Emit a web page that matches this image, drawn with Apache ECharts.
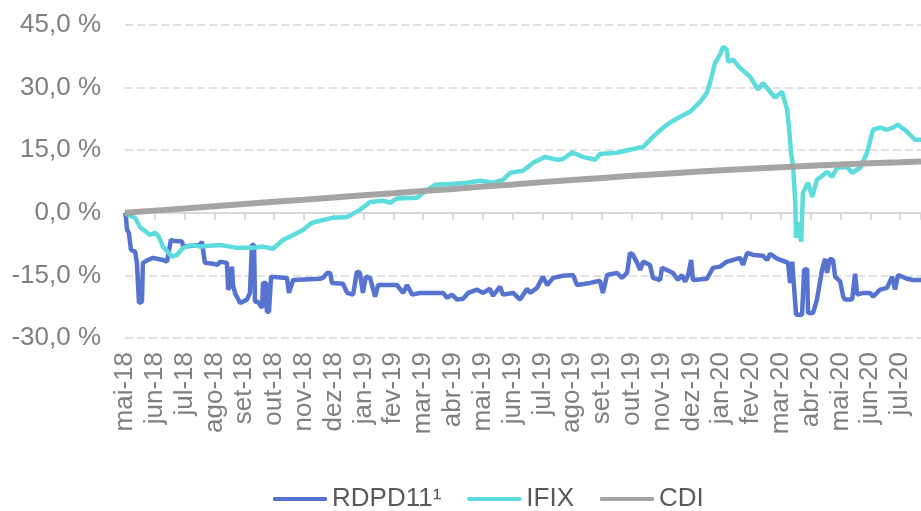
<!DOCTYPE html>
<html>
<head>
<meta charset="utf-8">
<script src="https://cdn.jsdelivr.net/npm/echarts@6/dist/echarts.min.js"></script>
<style>
  html, body { margin: 0; padding: 0; background: #fff; }
  #chart { width: 921px; height: 511px; }
</style>
</head>
<body>
<div id="chart"></div>
<script>
// month labels, one per tick (x unit = months since mai-18)
const months = ["mai-18", "jun-18", "jul-18", "ago-18", "set-18", "out-18", "nov-18", "dez-18",
  "jan-19", "fev-19", "mar-19", "abr-19", "mai-19", "jun-19", "jul-19", "ago-19", "set-19",
  "out-19", "nov-19", "dez-19", "jan-20", "fev-20", "mar-20", "abr-20", "mai-20", "jun-20", "jul-20"];

// RDPD11 (%)
const rdpdX = [0, 0.03, 0.07, 0.13, 0.2, 0.34, 0.4, 0.47, 0.57, 0.6, 0.77, 0.94, 1.27, 1.41, 1.44, 1.54, 1.61, 1.91, 1.95,
  2.52, 2.58, 2.68, 2.95, 3.09, 3.19, 3.42, 3.46, 3.52, 3.59, 3.62, 3.69, 3.86, 4.09, 4.19, 4.26, 4.33, 4.36, 4.46, 4.6,
  4.63, 4.73, 4.76, 4.83, 4.9, 4.96, 5.43, 5.5, 5.64, 6.54, 6.64, 6.78, 6.88, 6.94, 7.31, 7.45, 7.65, 7.78, 7.88, 7.98,
  8.08, 8.22, 8.39, 8.49, 9.12, 9.33, 9.46, 9.63, 9.9, 10.67, 10.8, 10.97, 11.14, 11.34, 11.51, 11.81, 12.01, 12.24,
  12.34, 12.58, 12.68, 13.02, 13.25, 13.49, 13.59, 13.82, 14.02, 14.16, 14.36, 14.69, 15.03, 15.16, 15.6, 15.93, 16.03,
  16.17, 16.5, 16.67, 16.84, 16.94, 17.04, 17.18, 17.28, 17.38, 17.61, 17.71, 17.95, 18.01, 18.18, 18.38, 18.55, 18.68,
  18.79, 18.89, 18.99, 19.05, 19.52, 19.72, 19.96, 20.19, 20.4, 20.63, 20.73, 20.87, 21.07, 21.4, 21.54, 21.64, 21.87,
  22.14, 22.24, 22.31, 22.38, 22.41, 22.51, 22.71, 22.78, 22.88, 22.91, 23.08, 23.21, 23.38, 23.48, 23.55, 23.65, 23.75,
  23.82, 23.99, 24.09, 24.15, 24.39, 24.49, 24.56, 24.76, 24.99, 25.09, 25.33, 25.56, 25.73, 25.83, 25.93, 26.23, 26.43, 26.7];
const rdpdY = [0, -1.0, -4.1, -4.8, -8.9, -9.3, -12.0, -21.6, -21.3, -12.0, -11.3, -10.8, -11.3, -11.7, -10.5, -6.5, -6.7, -6.9, -8.1,
  -7.7, -6.9, -12.0, -12.2, -12.5, -11.7, -12.0, -18.4, -17.7, -12.9, -17.3, -19.2, -21.6, -20.8, -19.2, -7.7, -7.7, -21.3, -21.3, -22.8,
  -16.8, -16.8, -23.7, -23.7, -15.3, -14.9, -15.6, -19.2, -16.1, -15.8, -15.6, -14.4, -14.4, -16.8, -17.0, -19.2, -19.6, -14.1, -14.4, -19.2,
  -15.3, -15.6, -20.1, -17.3, -17.3, -19.2, -17.3, -19.6, -19.2, -19.2, -20.4, -19.6, -20.8, -20.6, -19.2, -18.4, -19.2, -18.2,
  -19.9, -17.7, -19.6, -19.2, -20.8, -18.2, -19.2, -18.0, -15.3, -17.3, -15.6, -15.1, -14.9, -17.3, -16.8, -16.3, -19.2,
  -14.9, -14.4, -15.6, -14.4, -9.6, -10.1, -12.0, -13.7, -11.7, -12.5, -15.6, -16.1, -13.2, -13.7, -14.4, -16.1, -14.9,
  -16.5, -14.9, -11.3, -16.1, -15.8, -13.2, -12.9, -11.7, -11.3, -10.8, -12.5, -9.6, -10.1, -10.3, -11.3, -9.8, -11.0,
  -11.7, -12.0, -16.8, -11.7, -11.3, -24.4, -24.4, -13.7, -13.4, -24.0, -24.0, -20.8, -13.7, -11.0, -14.4, -11.0, -11.3,
  -15.3, -16.5, -20.1, -20.8, -20.8, -14.6, -19.6, -19.2, -19.2, -20.1, -18.4, -18.0, -15.3, -18.4, -14.9, -15.8, -16.1, -16.1];

// IFIX (%)
const ifixX = [0, 0.17, 0.34, 0.5, 0.84, 1.01, 1.14, 1.27, 1.58, 1.74, 1.95, 2.25, 2.52, 2.85, 3.19, 3.52, 3.76, 4.29, 4.63,
  4.96, 5.3, 5.64, 5.97, 6.27, 6.54, 6.98, 7.45, 7.88, 8.22, 8.65, 8.89, 9.12, 9.8, 10.0, 10.4, 10.9, 11.47, 11.91, 12.34,
  12.68, 12.92, 13.35, 13.69, 14.09, 14.49, 14.69, 15.0, 15.36, 15.77, 15.93, 16.5, 17.04, 17.38, 17.71, 18.05, 18.28,
  18.62, 18.95, 19.29, 19.52, 19.62, 19.79, 19.96, 20.06, 20.19, 20.23, 20.4, 20.63, 20.97, 21.23, 21.4, 21.64, 21.8,
  22.04, 22.21, 22.27, 22.34, 22.41, 22.48, 22.51, 22.58, 22.68, 22.74, 22.91, 23.05, 23.21, 23.55, 23.72, 23.88, 24.22,
  24.39, 24.66, 24.89, 25.09, 25.33, 25.56, 25.76, 25.93, 26.23, 26.5, 26.7];
const ifixY = [0, -0.7, -1.2, -3.4, -5.3, -4.8, -5.8, -8.1, -10.5, -10.1, -8.4, -7.7, -8.1, -7.9, -7.7, -8.1, -8.4, -8.4, -8.1,
  -8.6, -6.5, -5.3, -4.1, -2.4, -1.9, -1.2, -1.0, 0.7, 2.6, 2.9, 2.4, 3.4, 3.6, 4.8, 6.7, 6.9, 7.2, 7.7, 7.2,
  7.9, 9.6, 10.1, 12.0, 13.4, 12.7, 12.9, 14.4, 13.4, 12.7, 14.1, 14.4, 15.3, 15.8, 18.2, 20.4, 21.6,
  23.0, 24.2, 26.6, 28.8, 31.1, 35.9, 37.9, 39.8, 39.1, 36.2, 36.7, 34.7, 32.6, 29.5, 31.1, 29.0, 27.6,
  29.0, 24.7, 20.6, 14.4, 11.0, 3.1, -6.0, -2.2, -6.9, 4.8, 7.2, 3.8, 7.9, 9.8, 8.6, 10.8, 11.0,
  9.6, 10.8, 14.4, 19.9, 20.4, 19.9, 20.4, 21.1, 19.4, 17.5, 17.5];

// CDI (%)
const cdiX = [0, 1, 2, 3, 4, 5, 6, 7, 8, 9, 10, 11, 12, 13, 14, 15, 16, 17, 18, 19, 20, 21, 22, 23, 24, 25, 26, 26.7];
const cdiY = [0, 0.52, 1.04, 1.57, 2.1, 2.63, 3.13, 3.64, 4.18, 4.67, 5.2, 5.72, 6.27, 6.8, 7.35, 7.85, 8.35, 8.85,
  9.3, 9.75, 10.2, 10.55, 10.9, 11.25, 11.55, 11.85, 12.1, 12.3];

const zip = (xs, ys) => xs.map((x, i) => [x, ys[i]]);
const font = "'Liberation Sans', Arial, sans-serif";

const chart = echarts.init(document.getElementById('chart'));
chart.setOption({
  animation: false,
  backgroundColor: '#fff',
  grid: { left: 125, right: 0, top: 25, bottom: 173 },
  legend: {
    left: 268, top: 481,
    icon: 'roundRect',
    itemWidth: 54, itemHeight: 4, itemGap: 26,
    textStyle: { fontFamily: font, fontSize: 26, color: '#595959' },
    data: ['RDPD11¹', 'IFIX', 'CDI']
  },
  xAxis: [
    {
      type: 'value', min: 0, max: 26.7, interval: 1, position: 'bottom',
      axisLine: { show: false, onZero: false },
      axisTick: { show: false },
      splitLine: { show: false },
      axisLabel: {
        rotate: 90, margin: 14, fontFamily: font, fontSize: 26, color: '#7f7f7f',
        formatter: v => (Number.isInteger(v) && months[v]) ? months[v] : ''
      }
    },
    {
      type: 'value', min: 0, max: 26.7, interval: 1, position: 'bottom',
      axisLine: { show: true, onZero: true, lineStyle: { color: '#d9d9d9', width: 2 } },
      axisTick: { show: true, length: 7, lineStyle: { color: '#d9d9d9', width: 2 } },
      axisLabel: { show: false },
      splitLine: { show: false }
    }
  ],
  yAxis: {
    type: 'value', min: -30, max: 45, interval: 15,
    axisLine: { show: false },
    axisTick: { show: false },
    axisLabel: {
      margin: 24, fontFamily: font, fontSize: 26, color: '#7f7f7f',
      formatter: v => v.toFixed(1).replace('.', ',') + ' %'
    },
    splitLine: { lineStyle: { color: '#d9d9d9', width: 1.5, type: [8, 4] } }
  },
  series: [
    {
      name: 'RDPD11¹', type: 'line', symbol: 'none', data: zip(rdpdX, rdpdY),
      lineStyle: { color: '#5773d0', width: 4.5 }, itemStyle: { color: '#5773d0' }
    },
    {
      name: 'IFIX', type: 'line', symbol: 'none', data: zip(ifixX, ifixY),
      lineStyle: { color: '#5cdcdc', width: 4.5 }, itemStyle: { color: '#5cdcdc' }
    },
    {
      name: 'CDI', type: 'line', symbol: 'none', data: zip(cdiX, cdiY),
      lineStyle: { color: '#a5a5a5', width: 6 }, itemStyle: { color: '#a5a5a5' }
    }
  ]
});
</script>
</body>
</html>
